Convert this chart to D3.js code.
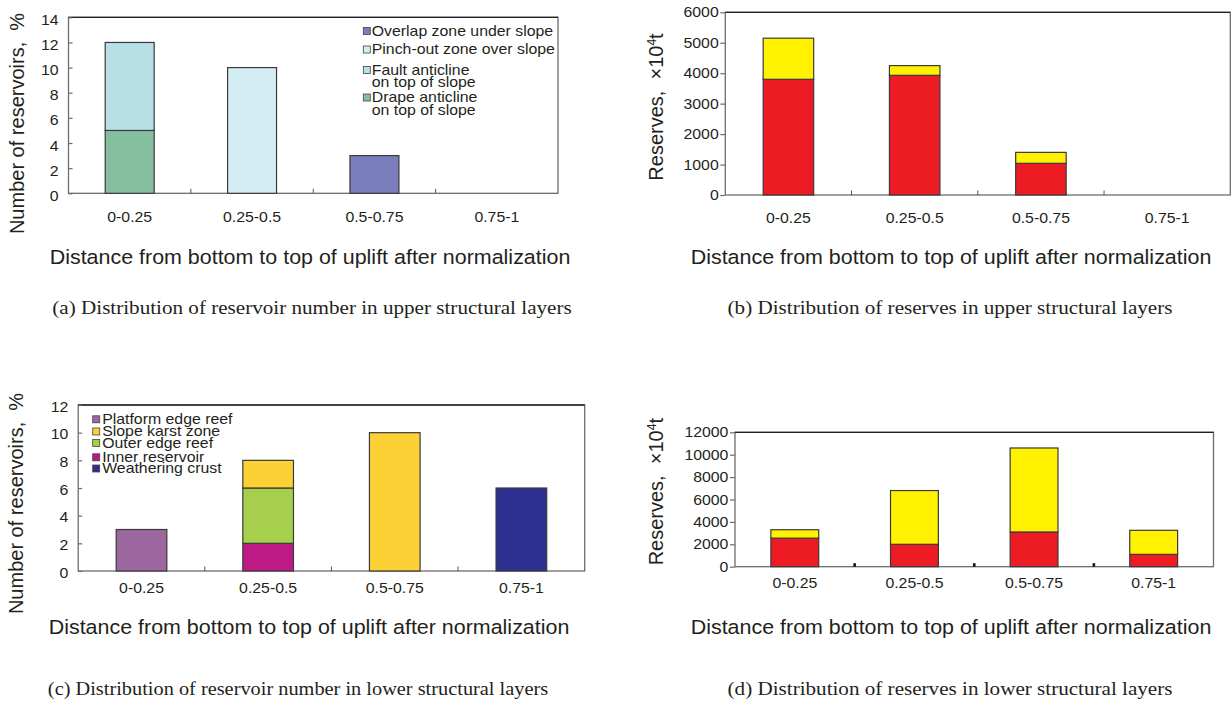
<!DOCTYPE html>
<html>
<head>
<meta charset="utf-8">
<script src="https://cdn.jsdelivr.net/npm/d3@7"></script>
<style>
  body { margin: 0; background: #fff; }
  svg { display: block; }
  text { font-family: "Liberation Sans", Arial, sans-serif; fill: #231f20; }
  text.cap { font-family: "Liberation Serif", "Times New Roman", serif; }
</style>
</head>
<body>
<svg id="fig" width="1231" height="702"></svg>
<script>
// Shared categories: normalized distance from bottom to top of uplift
const categories = ["0-0.25", "0.25-0.5", "0.5-0.75", "0.75-1"];

// (a) reservoir number in upper structural layers, %
const aDrape    = [5, 0, 0, 0];
const aFault    = [7, 0, 0, 0];
const aPinch    = [0, 10, 0, 0];
const aOverlap  = [0, 0, 3, 0];
const aTicks    = [0, 2, 4, 6, 8, 10, 12, 14];

// (b) reserves in upper structural layers, 10^4 t
const bRed      = [3800, 3930, 1040, 0];
const bYellow   = [1350, 320, 360, 0];
const bTicks    = [0, 1000, 2000, 3000, 4000, 5000, 6000];

// (c) reservoir number in lower structural layers, %
const cPlatform = [3, 0, 0, 0];
const cInner    = [0, 2, 0, 0];
const cOuter    = [0, 4, 0, 0];
const cSlope    = [0, 2, 10, 0];
const cCrust    = [0, 0, 0, 6];
const cTicks    = [0, 2, 4, 6, 8, 10, 12];

// (d) reserves in lower structural layers, 10^4 t
const dRed      = [2550, 2000, 3100, 1100];
const dYellow   = [750, 4800, 7500, 2150];
const dTicks    = [0, 2000, 4000, 6000, 8000, 10000, 12000];

const xTitle = "Distance from bottom to top of uplift after normalization";
const SX = 1.1;   // horizontal widening used for all upright text

const svg = d3.select("#fig");

function label(x, y, str, size, cls, sx) {
  return svg.append("text")
    .attr("class", cls || null)
    .attr("transform", `translate(${x},${y}) scale(${sx || SX},1)`)
    .attr("text-anchor", "middle")
    .attr("dy", "0.35em")
    .style("font-size", size + "px")
    .text(str);
}

function reservesTitle(t) {
  t.append("tspan").text("Reserves,  ×10");
  t.append("tspan").attr("dy", "-7px").style("font-size", "12px").text("4");
  t.append("tspan").attr("dy", "7px").text("t");
}

function panel(o) {
  const g = svg.append("g");
  const x = d3.scaleBand().domain(categories)
    .range([o.x0, o.x1]).paddingInner(0.6).paddingOuter(0.3);
  const y = d3.scaleLinear().domain([0, o.yMax]).range([o.y1, o.y0]);

  const rows = categories.map((c, i) => {
    const r = { cat: c };
    o.series.forEach(s => r[s.key] = s.values[i]);
    return r;
  });
  const stacked = d3.stack().keys(o.series.map(s => s.key))(rows);
  const color = d3.scaleOrdinal().domain(o.series.map(s => s.key))
    .range(o.series.map(s => s.color));

  // frame
  g.append("rect")
    .attr("x", o.x0).attr("y", o.y0)
    .attr("width", o.x1 - o.x0).attr("height", o.y1 - o.y0)
    .attr("fill", "none").attr("stroke", "#6d6d6d").attr("stroke-width", 1.3);
  g.append("line")
    .attr("x1", o.x0).attr("x2", o.x1).attr("y1", o.y0).attr("y2", o.y0)
    .attr("stroke", "#222").attr("stroke-width", 1.3);

  // bars
  g.append("g").selectAll("g").data(stacked).join("g")
    .attr("fill", d => color(d.key))
    .selectAll("rect").data(d => d.filter(p => p[1] - p[0] > 0)).join("rect")
    .attr("x", d => x(d.data.cat))
    .attr("width", x.bandwidth())
    .attr("y", d => y(d[1]))
    .attr("height", d => y(d[0]) - y(d[1]))
    .attr("stroke", "#3a3a3a").attr("stroke-width", 1.2);

  // category boundary ticks
  const half = x.step() * x.paddingInner() / 2;
  const bounds = categories.slice(1).map(c => x(c) - half);
  g.append("g").selectAll("line").data(bounds).join("line")
    .attr("x1", d => d).attr("x2", d => d)
    .attr("y1", o.y1).attr("y2", o.y1 - (o.heavyTicks ? 3.5 : 4.5))
    .attr("stroke", o.heavyTicks ? "#111" : "#555")
    .attr("stroke-width", o.heavyTicks ? 2.6 : 1);

  // y axis
  const ya = g.append("g").attr("transform", `translate(${o.x0},0)`)
    .call(d3.axisLeft(y).tickValues(o.ticks).tickFormat(d3.format("d"))
      .tickSize(o.tickInside ? -4 : 5).tickPadding(o.yPad));
  ya.select(".domain").remove();
  ya.selectAll(".tick line").attr("stroke", "#6d6d6d").attr("stroke-width", 1.2);
  ya.selectAll(".tick text")
    .attr("transform", `translate(0,${o.yShift || 0}) scale(${SX},1)`)
    .attr("fill", "#231f20").attr("font-family", null)
    .style("font-size", "14.4px");

  // x axis labels
  const xa = g.append("g").attr("transform", `translate(0,${o.y1})`)
    .call(d3.axisBottom(x).tickSize(0).tickPadding(0));
  xa.select(".domain").remove();
  xa.selectAll(".tick text")
    .attr("y", o.xLabY - o.y1).attr("dy", "0.35em")
    .attr("transform", `scale(${SX},1)`)
    .attr("fill", "#231f20").attr("font-family", null)
    .style("font-size", "14.4px");

  // axis titles
  label(o.titleX, o.titleY, xTitle, 19.5);
  const yt = svg.append("text")
    .attr("transform", `translate(${o.yTitleX},${o.yTitleY}) rotate(-90)`)
    .attr("text-anchor", "middle").attr("dy", "0.35em")
    .style("font-size", o.yTitleSize + "px")
    .style("white-space", "pre");
  o.yTitle(yt);

  // legend: swatches plus one text block holding every line
  if (o.legend) {
    const lg = svg.append("g");
    const t = lg.append("text")
      .attr("transform", `translate(${o.legend.x + o.legend.gap},0) scale(${SX},1)`)
      .style("font-size", "14.4px");
    o.legend.items.forEach(it => {
      const s = o.series.find(q => q.key === it.key);
      lg.append("rect")
        .attr("x", o.legend.x).attr("y", it.y - 3.5)
        .attr("width", 7).attr("height", 7)
        .attr("fill", s.color).attr("stroke", "#444").attr("stroke-width", 0.8);
      s.label.forEach((line, k) => {
        t.append("tspan").attr("x", 0)
          .attr("y", it.y + k * o.legend.lh + 5)
          .text(line);
      });
    });
  }

  label(o.capX, o.capY, o.caption, 19.2, "cap", o.capSX);
}

// (a)
panel({
  x0: 68.5, x1: 558, y0: 17.3, y1: 193.3, yMax: 14, ticks: aTicks,
  tickInside: true, yPad: 9, yShift: 2.5, xLabY: 216.7,
  series: [
    { key: "drape",   values: aDrape,   color: "#86bfa0", label: ["Drape anticline", "on top of slope"] },
    { key: "fault",   values: aFault,   color: "#b6e0e6", label: ["Fault anticline", "on top of slope"] },
    { key: "pinch",   values: aPinch,   color: "#d4edf3", label: ["Pinch-out zone over slope"] },
    { key: "overlap", values: aOverlap, color: "#7b7ebd", label: ["Overlap zone under slope"] }
  ],
  legend: { x: 363.3, gap: 8.5, lh: 12.5, items: [
    { key: "overlap", y: 31 }, { key: "pinch", y: 49.5 },
    { key: "fault", y: 70 }, { key: "drape", y: 97.5 } ] },
  titleX: 310, titleY: 256.7,
  yTitleX: 17, yTitleY: 123.5, yTitleSize: 20,
  yTitle: t => t.text("Number of reservoirs,  %"),
  caption: "(a) Distribution of reservoir number in upper structural layers",
  capX: 312, capY: 307
});

// (b)
panel({
  x0: 725.3, x1: 1230.3, y0: 12.3, y1: 195, yMax: 6000, ticks: bTicks,
  tickInside: false, yPad: 1, xLabY: 218,
  series: [
    { key: "red",    values: bRed,    color: "#ed1c24" },
    { key: "yellow", values: bYellow, color: "#fff100" }
  ],
  titleX: 951, titleY: 257,
  yTitleX: 656, yTitleY: 107, yTitleSize: 20,
  yTitle: reservesTitle,
  caption: "(b) Distribution of reserves in upper structural layers",
  capX: 950, capY: 307
});

// (c)
panel({
  x0: 78.2, x1: 584.7, y0: 405, y1: 571, yMax: 12, ticks: cTicks,
  tickInside: true, yPad: 9, yShift: 1.5, xLabY: 588,
  series: [
    { key: "inner",    values: cInner,    color: "#be1a87", label: ["Inner reservoir"] },
    { key: "outer",    values: cOuter,    color: "#a5cf4d", label: ["Outer edge reef"] },
    { key: "slope",    values: cSlope,    color: "#fcd135", label: ["Slope karst zone"] },
    { key: "platform", values: cPlatform, color: "#9c669f", label: ["Platform edge reef"] },
    { key: "crust",    values: cCrust,    color: "#2d3090", label: ["Weathering crust"] }
  ],
  legend: { x: 92.7, gap: 9.5, lh: 12, items: [
    { key: "platform", y: 419.3 }, { key: "slope", y: 431.5 },
    { key: "outer", y: 443 }, { key: "inner", y: 457.3 }, { key: "crust", y: 468.5 } ] },
  titleX: 309, titleY: 627,
  yTitleX: 16, yTitleY: 503.5, yTitleSize: 20,
  yTitle: t => t.text("Number of reservoirs,  %"),
  caption: "(c) Distribution of reservoir number in lower structural layers",
  capX: 298, capY: 688, capSX: 1.06
});

// (d)
panel({
  x0: 735, x1: 1213.5, y0: 432.3, y1: 566.7, yMax: 12000, ticks: dTicks,
  tickInside: false, yPad: 1, xLabY: 583.3, heavyTicks: true,
  series: [
    { key: "red",    values: dRed,    color: "#ed1c24" },
    { key: "yellow", values: dYellow, color: "#fff100" }
  ],
  titleX: 951, titleY: 627,
  yTitleX: 656, yTitleY: 491.7, yTitleSize: 20,
  yTitle: reservesTitle,
  caption: "(d) Distribution of reserves in lower structural layers",
  capX: 950, capY: 688
});
</script>
</body>
</html>
